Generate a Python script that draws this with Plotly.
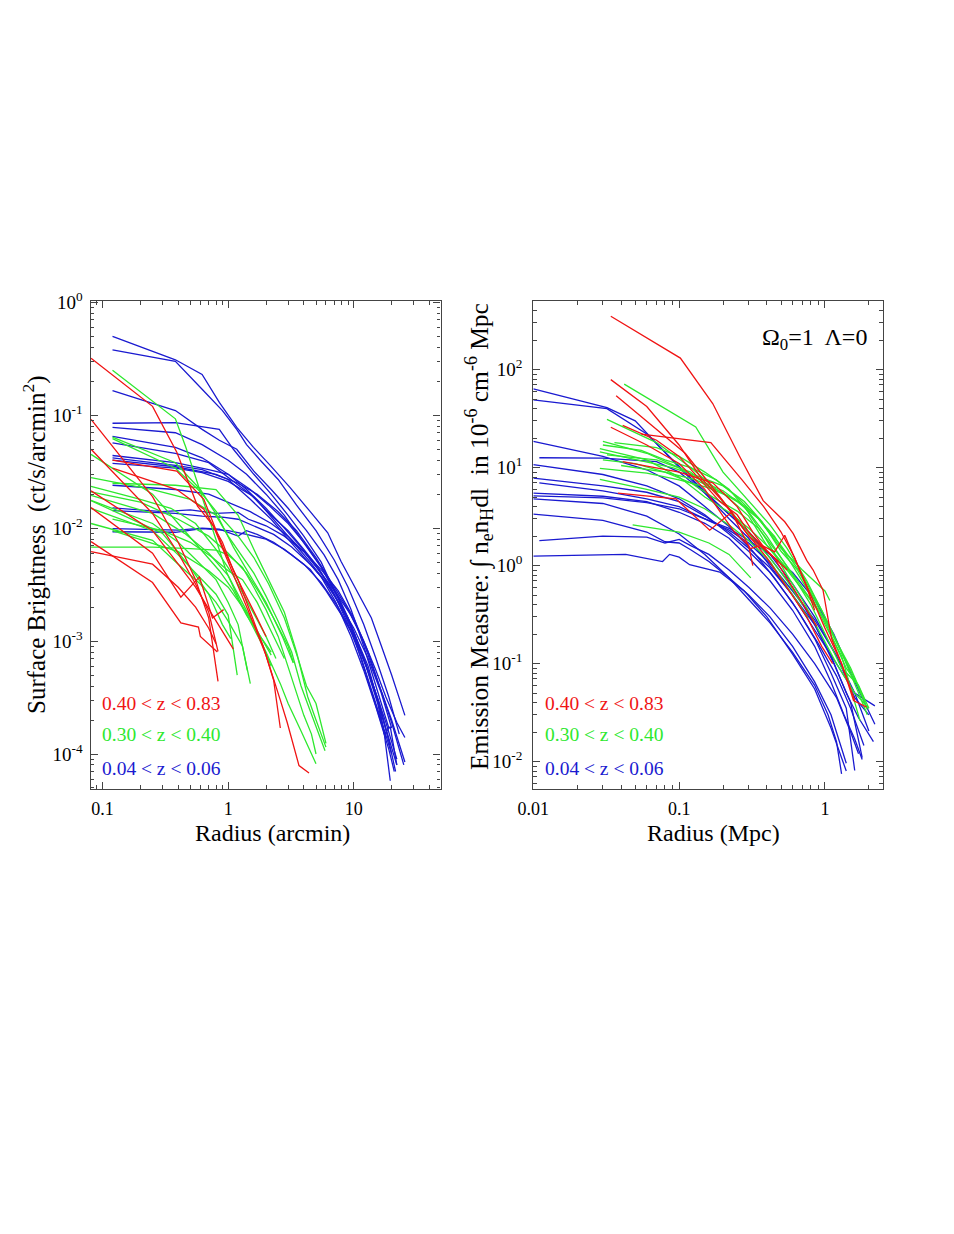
import plotly.graph_objects as go

RED = "#f01414"
GREEN = "#2ee82e"
BLUE = "#1a1ad0"

# ---------------- Left panel: surface brightness vs radius (arcmin) ----------------
LEFT_BLUE = [
    ([0.12, 0.38, 0.62, 0.85, 1.17, 1.59, 2.16, 3.1, 4.5, 6.2, 7.9, 10, 13.8, 16.6, 20, 25.5],
     [0.50, 0.31, 0.23, 0.13, 0.078, 0.052, 0.036, 0.023, 0.014, 0.0091, 0.0051, 0.0031, 0.0016, 0.0009, 0.0005, 0.00022]),
    ([0.12, 0.38, 0.62, 0.9, 1.17, 1.4, 1.8, 2.5, 3.5, 5, 7, 9, 12, 15, 19, 23],
     [0.38, 0.30, 0.17, 0.11, 0.075, 0.055, 0.04, 0.027, 0.016, 0.0095, 0.0052, 0.003, 0.0014, 0.0007, 0.00032, 0.00015]),
    ([0.12, 0.38, 0.62, 0.85, 1.17, 1.6, 2.2, 3, 4.2, 5.8, 7.5, 9.5, 12, 15, 19],
     [0.165, 0.11, 0.075, 0.06, 0.05, 0.032, 0.022, 0.015, 0.0095, 0.0058, 0.0035, 0.0019, 0.0009, 0.0004, 0.00017]),
    ([0.12, 0.38, 0.85, 1.1, 1.6, 2.2, 3, 4, 5.5, 7, 9, 11, 14, 18],
     [0.085, 0.086, 0.075, 0.05, 0.03, 0.02, 0.013, 0.0085, 0.005, 0.0028, 0.0016, 0.0008, 0.00035, 0.00014]),
    ([0.12, 0.38, 0.62, 1.0, 1.4, 2.0, 2.8, 4, 5.5, 7.5, 10, 13, 16, 19.5],
     [0.078, 0.07, 0.055, 0.04, 0.03, 0.02, 0.013, 0.0075, 0.0045, 0.0024, 0.0012, 0.00055, 0.00026, 0.00012]),
    ([0.12, 0.38, 0.62, 1.0, 1.5, 2.1, 3, 4.2, 5.8, 7.5, 9.5, 12, 15, 19, 22],
     [0.065, 0.052, 0.042, 0.03, 0.022, 0.016, 0.011, 0.007, 0.0042, 0.0025, 0.0014, 0.0007, 0.00033, 0.00014, 0.00008]),
    ([0.12, 0.38, 0.7, 1.0, 1.5, 2.2, 3, 4, 5.2, 7, 9, 11.5, 14, 17, 20],
     [0.057, 0.046, 0.038, 0.028, 0.02, 0.013, 0.0095, 0.0065, 0.0045, 0.0026, 0.0014, 0.0007, 0.00036, 0.00018, 0.0001]),
    ([0.12, 0.38, 0.7, 1.0, 1.4, 2.0, 2.8, 3.8, 5, 6.5, 8.5, 11, 14, 18, 22],
     [0.044, 0.038, 0.033, 0.03, 0.022, 0.015, 0.01, 0.0068, 0.0046, 0.003, 0.0017, 0.0009, 0.00043, 0.00019, 0.00009]),
    ([0.12, 0.38, 0.62, 1.0, 1.5, 2.2, 3, 4, 5.5, 7.2, 9.5, 12, 15, 19, 21],
     [0.042, 0.036, 0.033, 0.027, 0.018, 0.012, 0.008, 0.0055, 0.0037, 0.0022, 0.0011, 0.00055, 0.00026, 0.00011, 0.00007]),
    ([0.12, 0.38, 0.8, 1.2, 1.7, 2.5, 3.5, 5, 7, 9, 11.5, 14, 17, 20, 25],
     [0.040, 0.035, 0.03, 0.025, 0.02, 0.014, 0.0095, 0.0055, 0.003, 0.0019, 0.0011, 0.0006, 0.00033, 0.00019, 0.00008]),
    ([0.12, 0.38, 0.62, 1.0, 1.6, 2.3, 3.3, 4.5, 6, 8, 10, 13, 16, 17.5, 19.5, 22],
     [0.0375, 0.034, 0.031, 0.026, 0.019, 0.012, 0.0075, 0.005, 0.0033, 0.002, 0.0012, 0.0006, 0.00026, 0.00015, 0.000175, 0.00008]),
    ([0.12, 0.38, 0.7, 1.0, 1.5, 2.2, 3, 4, 5.5, 7.5, 9.5, 12, 15, 18, 22, 25.5],
     [0.024, 0.022, 0.02, 0.017, 0.014, 0.011, 0.0085, 0.0062, 0.004, 0.0025, 0.0017, 0.001, 0.00055, 0.00032, 0.00019, 0.00014]),
    ([0.12, 0.3, 0.5, 0.8, 1.2, 1.45, 2.0, 2.8, 4, 5.5, 7.5, 10, 13, 16, 20, 25.5],
     [0.0151, 0.014, 0.0145, 0.0135, 0.0138, 0.012, 0.0105, 0.0085, 0.0062, 0.0043, 0.0028, 0.0016, 0.0008, 0.0004, 0.0002, 0.000085]),
    ([0.12, 0.38, 0.62, 0.9, 1.2, 1.6, 2.3, 3.2, 4.5, 6, 8, 10, 13, 16.5, 20],
     [0.0143, 0.0135, 0.0128, 0.0125, 0.012, 0.0105, 0.0088, 0.0068, 0.0048, 0.0033, 0.002, 0.0013, 0.0007, 0.00035, 0.00017]),
    ([0.12, 0.25, 0.4, 0.62, 0.85, 1.2, 1.4, 1.7, 2.3, 3.2, 4.5, 6, 8, 10.5, 13, 16, 19, 21.5],
     [0.0099, 0.0097, 0.0096, 0.0100, 0.0098, 0.0085, 0.0095, 0.0088, 0.0075, 0.0058, 0.0043, 0.0028, 0.0017, 0.001, 0.00055, 0.00028, 0.00013, 0.00007]),
    ([0.12, 0.38, 0.62, 1.0, 1.4, 2.0, 2.8, 4, 5.5, 7.5, 10, 12.5, 15.5, 17.5, 19.5],
     [0.0093, 0.0092, 0.0099, 0.0095, 0.0088, 0.008, 0.0065, 0.0048, 0.0033, 0.002, 0.0011, 0.0006, 0.00028, 0.00015, 0.000058]),
]

LEFT_GREEN = [
    ([0.12, 0.38, 0.46, 0.61, 0.76, 0.97, 1.25, 1.6, 2.0, 2.6, 3.0, 3.8, 5.0],
     [0.25, 0.093, 0.052, 0.02, 0.0093, 0.0041, 0.0022, 0.0013, 0.0008, 0.00042, 0.00028, 0.00016, 0.000082]),
    ([0.12, 0.38, 0.6, 0.85, 1.1, 1.5, 2.0, 2.7, 3.3],
     [0.064, 0.038, 0.022, 0.012, 0.0068, 0.0038, 0.0022, 0.0011, 0.00064]),
    ([0.12, 0.38, 0.6, 0.85, 1.2, 1.6, 2.1, 2.8, 3.6, 4.2, 5.0, 6.0],
     [0.062, 0.034, 0.021, 0.013, 0.0085, 0.0055, 0.0032, 0.0016, 0.0007, 0.0004, 0.00028, 0.000124]),
    ([0.081, 0.25, 0.4, 0.6, 0.85, 1.1, 1.4, 1.8, 2.2],
     [0.045, 0.02, 0.011, 0.0065, 0.0042, 0.0028, 0.0017, 0.0011, 0.0008]),
    ([0.081, 0.25, 0.5, 0.8, 1.0, 1.3, 1.6, 2.0, 2.5, 3.2, 3.8, 4.5, 5.9],
     [0.028, 0.022, 0.018, 0.013, 0.0085, 0.0055, 0.004, 0.0025, 0.0015, 0.0008, 0.0004, 0.00024, 0.000107]),
    ([0.081, 0.2, 0.4, 0.7, 1.0, 1.4, 1.8, 2.3, 3.0, 3.3],
     [0.021, 0.017, 0.012, 0.0085, 0.006, 0.004, 0.0026, 0.0016, 0.0009, 0.00065]),
    ([0.081, 0.25, 0.45, 0.7, 1.0, 1.3, 1.6, 1.9, 2.2],
     [0.0195, 0.0135, 0.009, 0.006, 0.0038, 0.0022, 0.0014, 0.0009, 0.0006]),
    ([0.081, 0.25, 0.4, 0.6, 0.8, 1.0, 1.2, 1.42],
     [0.0176, 0.011, 0.0075, 0.0048, 0.0035, 0.0022, 0.0014, 0.00055]),
    ([0.081, 0.25, 0.4, 0.6, 0.8, 1.0, 1.18],
     [0.015, 0.0095, 0.0058, 0.0036, 0.0026, 0.0017, 0.0005]),
    ([0.081, 0.25, 0.4, 0.6, 0.8, 1.0, 1.3, 1.5],
     [0.011, 0.0078, 0.0048, 0.0032, 0.0022, 0.0015, 0.0009, 0.00042]),
    ([0.081, 0.25, 0.5, 0.8, 1.0, 1.3, 1.6, 2.0, 2.5, 3.0, 3.5, 4.0, 4.6, 5.0],
     [0.0068, 0.0068, 0.0066, 0.0064, 0.0058, 0.0045, 0.003, 0.0019, 0.0011, 0.0006, 0.00035, 0.00022, 0.00015, 0.0001]),
    ([0.12, 0.38, 0.8, 1.2, 1.6, 2.1, 2.8, 3.5, 4.3, 5.0, 6.0],
     [0.025, 0.024, 0.022, 0.013, 0.0065, 0.0035, 0.0018, 0.0008, 0.00032, 0.0002, 0.000115]),
    ([0.081, 0.2, 0.35, 0.55, 0.8, 1.1, 1.5, 2.0, 2.4],
     [0.0235, 0.018, 0.015, 0.011, 0.0065, 0.0038, 0.002, 0.0011, 0.0007]),
    ([0.12, 0.3, 0.5, 0.75, 1.0, 1.3, 1.7, 2.2, 2.8],
     [0.012, 0.0095, 0.0075, 0.0055, 0.0042, 0.0035, 0.0022, 0.0012, 0.0007]),
    ([0.12, 0.4, 0.7, 1.0, 1.4, 1.8, 2.2],
     [0.0095, 0.0062, 0.0042, 0.003, 0.0018, 0.0011, 0.00075]),
    ([0.081, 0.3, 0.5, 0.7, 0.9, 1.05],
     [0.0175, 0.009, 0.0045, 0.0026, 0.0014, 0.00105]),
]

LEFT_RED = [
    ([0.081, 0.25, 0.39, 0.57, 0.76, 0.97, 1.24, 1.6, 2.0, 2.6, 2.95, 3.66, 4.4],
     [0.32, 0.12, 0.047, 0.0157, 0.0105, 0.0055, 0.0028, 0.0014, 0.00075, 0.0003, 0.00019, 0.000079, 0.000068]),
    ([0.081, 0.25, 0.4, 0.55, 0.7, 0.83],
     [0.092, 0.019, 0.0075, 0.0035, 0.0016, 0.00044]),
    ([0.081, 0.25, 0.4, 0.55, 0.7, 0.83],
     [0.05, 0.0135, 0.006, 0.0032, 0.0018, 0.00081]),
    ([0.081, 0.25, 0.4, 0.55, 0.75, 0.95, 1.1],
     [0.0214, 0.0095, 0.0048, 0.003, 0.0017, 0.0011, 0.00085]),
    ([0.081, 0.25, 0.42, 0.59, 0.75, 0.92],
     [0.0152, 0.006, 0.00245, 0.0037, 0.0016, 0.0019]),
    ([0.081, 0.25, 0.42, 0.58, 0.6, 0.82],
     [0.0076, 0.0033, 0.00145, 0.00133, 0.0011, 0.0008]),
    ([0.081, 0.25, 0.4, 0.55, 0.7, 0.8],
     [0.0062, 0.0048, 0.003, 0.002, 0.0013, 0.00095]),
    ([0.12, 0.39, 0.64, 0.92, 1.2, 1.5, 1.9, 2.3, 2.6],
     [0.04, 0.032, 0.018, 0.0065, 0.0035, 0.0018, 0.0009, 0.00045, 0.00017]),
    ([0.12, 0.39, 0.64, 0.9, 1.1, 1.4, 1.7, 2.0],
     [0.034, 0.022, 0.0147, 0.0075, 0.0042, 0.0025, 0.0016, 0.0011]),
]

# ---------------- Right panel: emission measure vs radius (Mpc) ----------------
RIGHT_BLUE = [
    ([0.010, 0.032, 0.05, 0.075, 0.1, 0.15, 0.22, 0.3, 0.42, 0.6, 0.85, 1.2, 1.6, 2.2],
     [63.5, 41, 30, 16, 10, 5.5, 3.0, 1.9, 1.0, 0.5, 0.22, 0.1, 0.05, 0.037]),
    ([0.010, 0.032, 0.06, 0.09, 0.13, 0.2, 0.3, 0.42, 0.6, 0.85, 1.2, 1.6, 2.0],
     [49, 40, 22, 12, 7, 3.8, 2.2, 1.3, 0.65, 0.3, 0.12, 0.05, 0.0205]),
    ([0.010, 0.03, 0.06, 0.1, 0.15, 0.22, 0.32, 0.45, 0.65, 0.9, 1.2, 1.5, 1.85],
     [18.5, 13, 9.5, 6.5, 4.0, 2.5, 1.4, 0.75, 0.35, 0.16, 0.075, 0.035, 0.0146]),
    ([0.011, 0.03, 0.07, 0.1, 0.15, 0.2, 0.3, 0.42, 0.6, 0.85, 1.15, 1.5, 1.8],
     [12.6, 12.5, 11.5, 9, 5.5, 3.8, 2.2, 1.2, 0.6, 0.25, 0.1, 0.04, 0.011]),
    ([0.010, 0.03, 0.06, 0.1, 0.15, 0.22, 0.3, 0.42, 0.6, 0.85, 1.1, 1.4, 1.6],
     [10.7, 8.5, 6.5, 4.8, 3.3, 2.1, 1.4, 0.85, 0.42, 0.18, 0.08, 0.035, 0.0081]),
    ([0.010, 0.03, 0.06, 0.1, 0.15, 0.22, 0.3, 0.42, 0.6, 0.85, 1.1, 1.4, 1.7, 2.15],
     [7.8, 6.5, 5.6, 4.5, 3.2, 2.2, 1.5, 0.95, 0.5, 0.25, 0.12, 0.05, 0.028, 0.016]),
    ([0.011, 0.03, 0.06, 0.1, 0.15, 0.22, 0.3, 0.42, 0.6, 0.85, 1.2, 1.6, 2.0],
     [7.0, 5.8, 4.8, 4.0, 3.0, 2.3, 1.7, 1.05, 0.55, 0.28, 0.12, 0.045, 0.03]),
    ([0.010, 0.03, 0.06, 0.1, 0.15, 0.22, 0.3, 0.42, 0.6, 0.85, 1.1, 1.35, 1.6, 1.8],
     [5.5, 5.1, 4.5, 3.5, 2.7, 1.9, 1.2, 0.7, 0.35, 0.15, 0.065, 0.03, 0.017, 0.0105]),
    ([0.010, 0.03, 0.06, 0.1, 0.15, 0.22, 0.3, 0.42, 0.6, 0.85, 1.15, 1.5, 1.9, 2.2],
     [5.15, 4.9, 4.4, 3.8, 3.0, 2.4, 1.8, 1.3, 0.85, 0.45, 0.2, 0.08, 0.038, 0.024]),
    ([0.010, 0.03, 0.06, 0.1, 0.15, 0.22, 0.3, 0.42, 0.6, 0.85, 1.05, 1.2, 1.3],
     [4.8, 4.3, 3.2, 2.1, 1.3, 0.75, 0.45, 0.26, 0.13, 0.06, 0.03, 0.016, 0.0075]),
    ([0.010, 0.03, 0.06, 0.08, 0.1, 0.12, 0.16, 0.22, 0.3, 0.42, 0.6, 0.85, 1.1, 1.4],
     [3.35, 2.9, 2.2, 1.75, 1.7, 1.45, 1.1, 0.75, 0.5, 0.3, 0.15, 0.065, 0.03, 0.0096]),
    ([0.011, 0.03, 0.06, 0.08, 0.1, 0.12, 0.16, 0.22, 0.3, 0.42, 0.6, 0.85, 1.2, 1.5, 1.7],
     [1.8, 2.0, 1.95, 1.7, 1.85, 1.6, 1.3, 0.9, 0.6, 0.37, 0.2, 0.1, 0.045, 0.02, 0.012]),
    ([0.010, 0.043, 0.077, 0.086, 0.1, 0.118, 0.19, 0.28, 0.4, 0.6, 0.85, 1.1, 1.4],
     [1.25, 1.3, 1.1, 1.3, 1.22, 1.02, 0.86, 0.55, 0.3, 0.125, 0.055, 0.022, 0.008]),
]

RIGHT_GREEN = [
    ([0.042, 0.13, 0.2, 0.3, 0.42, 0.55, 0.75, 1.0, 1.3, 1.6, 1.95],
     [71, 26, 9, 4.5, 2.6, 1.5, 0.7, 0.3, 0.13, 0.07, 0.034]),
    ([0.032, 0.07, 0.12, 0.18, 0.25, 0.35, 0.5, 0.7, 1.0, 1.08],
     [31, 18, 10, 6, 4.5, 3.0, 1.5, 0.9, 0.55, 0.44]),
    ([0.030, 0.06, 0.1, 0.15, 0.2, 0.28, 0.4, 0.55, 0.7, 0.9, 1.2, 1.6, 2.0],
     [18.5, 14, 10, 7, 5.8, 4, 1.8, 0.8, 0.45, 0.22, 0.1, 0.05, 0.035]),
    ([0.0286, 0.06, 0.1, 0.15, 0.22, 0.3, 0.42, 0.6, 0.8, 1.0, 1.3, 1.65],
     [15.6, 12, 8, 5, 3.5, 2.4, 1.5, 0.8, 0.4, 0.2, 0.09, 0.063]),
    ([0.0286, 0.05, 0.09, 0.14, 0.2, 0.28, 0.37, 0.5, 0.65, 0.85, 1.1, 1.4, 1.7, 2.0],
     [14.5, 12, 10, 8, 6.5, 4.5, 2.8, 1.4, 0.9, 0.45, 0.2, 0.09, 0.06, 0.035]),
    ([0.032, 0.07, 0.12, 0.18, 0.25, 0.33, 0.42, 0.55, 0.7],
     [13.5, 12, 9, 5.5, 3.0, 1.8, 1.2, 0.7, 0.4]),
    ([0.0286, 0.06, 0.1, 0.16, 0.24, 0.32, 0.45, 0.6, 0.8, 1.0, 1.3, 1.74],
     [9.8, 8.8, 7.5, 6.2, 4.8, 3.5, 2.0, 1.0, 0.5, 0.25, 0.12, 0.026]),
    ([0.0286, 0.06, 0.1, 0.15, 0.22, 0.3, 0.42, 0.55, 0.77],
     [7.6, 6.0, 5.0, 3.8, 2.6, 1.8, 1.1, 0.6, 0.29]),
    ([0.048, 0.1, 0.16, 0.22, 0.31],
     [2.6, 2.2, 1.7, 1.3, 0.75]),
    ([0.03, 0.055, 0.08, 0.12, 0.18, 0.25, 0.35, 0.5, 0.7, 0.95, 1.25, 1.5, 1.9],
     [17, 15, 12, 10, 7.5, 5, 3.0, 1.6, 0.8, 0.35, 0.15, 0.09, 0.04]),
    ([0.04, 0.08, 0.13, 0.2, 0.3, 0.4, 0.55, 0.75, 1.0, 1.3, 1.7, 1.95],
     [10.5, 9, 7.5, 5.5, 3.2, 1.6, 0.9, 0.5, 0.28, 0.13, 0.05, 0.03]),
    ([0.036, 0.07, 0.1, 0.15, 0.22, 0.3, 0.4, 0.5, 0.6],
     [18, 16, 13, 9, 6, 3.5, 2.0, 1.2, 0.8]),
    ([0.03, 0.05, 0.08, 0.12, 0.17, 0.25, 0.35, 0.48, 0.65, 0.9],
     [12, 11, 9, 7, 5, 3.6, 2.4, 1.3, 0.7, 0.35]),
]

RIGHT_RED = [
    ([0.034, 0.102, 0.17, 0.26, 0.377, 0.53, 0.606, 0.75, 0.83, 0.97, 1.11, 1.3, 1.57, 1.93],
     [350, 131, 45, 13, 4.6, 2.8, 2.12, 1.13, 0.9, 0.56, 0.18, 0.1, 0.042, 0.036]),
    ([0.034, 0.06, 0.1, 0.14, 0.2, 0.28, 0.4, 0.55, 0.75, 0.95, 1.13],
     [79, 42, 17, 8, 4.5, 2.3, 1.2, 0.6, 0.3, 0.15, 0.1]),
    ([0.037, 0.074, 0.11, 0.16, 0.22, 0.3, 0.45, 0.6, 0.88],
     [54, 23, 14, 7, 3.8, 2.0, 1.2, 0.6, 0.24]),
    ([0.034, 0.06, 0.1, 0.15, 0.2, 0.24, 0.3, 0.32],
     [25.8, 17, 11, 6, 3.2, 2.2, 1.6, 1.0]),
    ([0.041, 0.07, 0.1, 0.14, 0.19, 0.25, 0.3, 0.367, 0.452, 0.53, 0.65, 0.8, 1.0, 1.3, 1.6],
     [27, 19, 13, 7.5, 4.5, 3.3, 2.2, 1.61, 1.38, 2.04, 1.0, 0.5, 0.23, 0.1, 0.042]),
    ([0.055, 0.165, 0.27, 0.38, 0.5, 0.62, 0.75, 0.85],
     [22, 18, 7.5, 4.0, 2.2, 1.2, 0.6, 0.35]),
    ([0.041, 0.1, 0.17, 0.25, 0.32, 0.4, 0.48],
     [11.5, 9, 7.0, 4.0, 2.2, 1.4, 1.1]),
    ([0.038, 0.095, 0.162, 0.229, 0.306, 0.367, 0.45, 0.55],
     [5.5, 4.8, 2.3, 3.5, 1.49, 1.61, 1.2, 0.9]),
]

LEFT_YTICKS = [1e-4, 1e-3, 1e-2, 1e-1, 1]
LEFT_YTEXT = ["10<sup>-4</sup>", "10<sup>-3</sup>", "10<sup>-2</sup>", "10<sup>-1</sup>", "10<sup>0</sup>"]
LEFT_XTICKS = [0.1, 1, 10]
LEFT_XTEXT = ["0.1", "1", "10"]
RIGHT_YTICKS = [1e-2, 1e-1, 1, 10, 100]
RIGHT_YTEXT = ["10<sup>-2</sup>", "10<sup>-1</sup>", "10<sup>0</sup>", "10<sup>1</sup>", "10<sup>2</sup>"]
RIGHT_XTICKS = [0.01, 0.1, 1]
RIGHT_XTEXT = ["0.01", "0.1", "1"]
LEGEND_TEXT = ["0.40 &lt; z &lt; 0.83", "0.30 &lt; z &lt; 0.40", "0.04 &lt; z &lt; 0.06"]

FONT = "Liberation Serif, Times New Roman, serif"
W, H = 954, 1234
OFF = 8  # page body margin of the browser

fig = go.Figure()
for groups, xa, ya in (((LEFT_BLUE, BLUE), (LEFT_GREEN, GREEN), (LEFT_RED, RED)), "x", "y"), \
                      (((RIGHT_BLUE, BLUE), (RIGHT_GREEN, GREEN), (RIGHT_RED, RED)), "x2", "y2"):
    for lines, color in groups:
        for xs, ys in lines:
            fig.add_trace(go.Scatter(x=xs, y=ys, mode="lines", xaxis=xa, yaxis=ya,
                                     line=dict(color=color, width=1.3),
                                     hoverinfo="skip", showlegend=False))


def minor_vals(lo, hi):
    vals = []
    for e in range(lo, hi + 1):
        for m in range(2, 10):
            vals.append(m * 10.0 ** e)
    return vals


def axis(domain, rng, tickvals, ticktext, minors, anchor, standoff, size):
    return dict(
        type="log", domain=domain, range=rng, anchor=anchor, automargin=False,
        showline=True, linecolor="#444", linewidth=1.3, mirror="allticks",
        ticks="inside", ticklen=7, tickwidth=1, tickcolor="#444",
        tickmode="array", tickvals=tickvals, ticktext=ticktext,
        ticklabelstandoff=standoff,
        tickfont=dict(family=FONT, size=size, color="black"),
        showgrid=False, zeroline=False,
        minor=dict(ticks="inside", ticklen=3.5, tickwidth=1, tickcolor="#444",
                   showgrid=False, tickmode="array", tickvals=minors),
    )


def dx(x):
    return (x - OFF) / W


def dy(y):
    return 1 - (y - OFF) / H


ydom = [dy(789), dy(301)]
fig.update_layout(
    width=W, height=H, margin=dict(l=0, r=0, t=0, b=0, autoexpand=False),
    paper_bgcolor="white", plot_bgcolor="white", showlegend=False,
    xaxis=axis([dx(90.5), dx(440.5)], [-1.096, 1.69], LEFT_XTICKS, LEFT_XTEXT,
               minor_vals(-2, 1), "y", 3, 18),
    yaxis=axis(ydom, [-4.31, 0.012], LEFT_YTICKS, LEFT_YTEXT, minor_vals(-5, 0), "x", 3, 19),
    xaxis2=axis([dx(533.3), dx(882.7)], [-2.0, 0.396], RIGHT_XTICKS, RIGHT_XTEXT,
                minor_vals(-2, 0), "y2", 3, 18),
    yaxis2=axis(ydom, [-2.28, 2.70], RIGHT_YTICKS, RIGHT_YTEXT, minor_vals(-3, 2), "x2", 6, 19),
)

anns = []
# axis titles
for text, cx, cy in (("Radius (arcmin)", 272, 833), ("Radius (Mpc)", 713, 833)):
    anns.append(dict(text=text, x=dx(cx), y=dy(cy), xref="paper", yref="paper", showarrow=False,
                     xanchor="center", yanchor="middle", font=dict(family=FONT, size=24, color="black")))
for text, cx, cy, fs in (("Surface Brightness  (ct/s/arcmin<sup>2</sup>)", 35, 545, 25),
                         ("Emission Measure: ∫ n<sub>e</sub>n<sub>H</sub>dl  in 10<sup>-6</sup> cm<sup>-6</sup> Mpc", 479, 537, 25.5)):
    anns.append(dict(text=text, x=dx(cx), y=dy(cy), xref="paper", yref="paper", showarrow=False,
                     textangle=-90, xanchor="center", yanchor="middle",
                     font=dict(family=FONT, size=fs, color="black")))
# Omega annotation
anns.append(dict(text="Ω<sub>0</sub>=1  Λ=0", x=dx(869), y=dy(339), xref="paper", yref="paper",
                 showarrow=False, xanchor="right", yanchor="middle",
                 font=dict(family=FONT, size=24, color="black")))
# redshift labels
for left in (100, 543):
    for text, color, cy in zip(LEGEND_TEXT, (RED, GREEN, BLUE), (704, 734, 768)):
        anns.append(dict(text=text, x=dx(left), y=dy(cy), xref="paper", yref="paper", showarrow=False,
                         xanchor="left", yanchor="middle",
                         font=dict(family=FONT, size=19.5, color=color)))
fig.update_layout(annotations=anns)

fig.write_html("out.html")
